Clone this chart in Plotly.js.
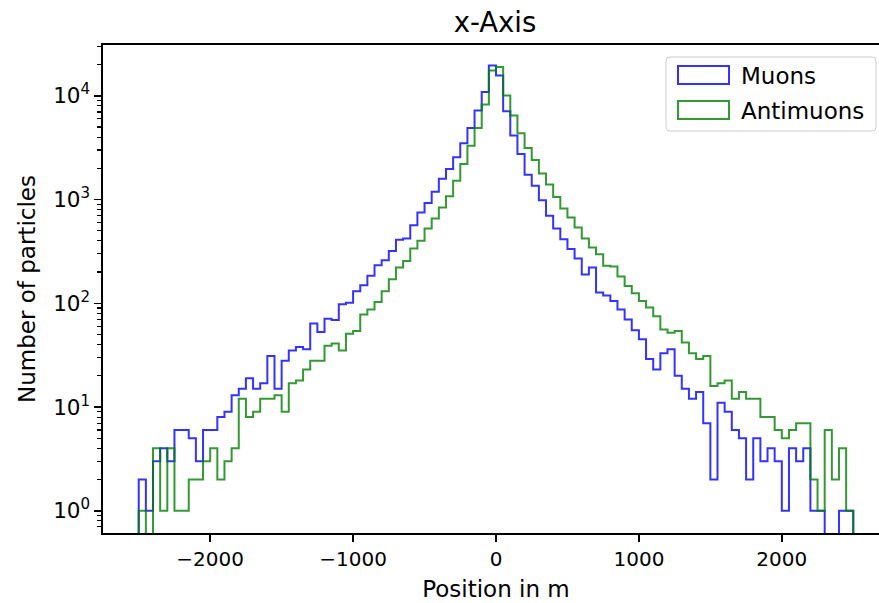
<!DOCTYPE html>
<html><head><meta charset="utf-8">
<script src="https://cdn.plot.ly/plotly-3.0.1.min.js"></script>
<style>html,body{margin:0;padding:0;overflow:hidden;background:#fff}#chart{width:900px;height:603px}</style>
</head><body><div id="chart"></div>
<script>
// Histogram: 100 bins of 50 m from -2500 m to 2500 m
const binStart = -2500;
const binWidth = 50;
const seriesNames = ['Muons', 'Antimuons'];
const muons = [
  2, 1, 3, 4, 3, 6, 6, 5, 3, 6,
  6, 8, 9, 13, 15, 19, 15, 17, 31, 15,
  28, 35, 38, 36, 64, 53, 71, 69, 98, 101,
  131, 149, 184, 233, 260, 320, 409, 421, 567, 752,
  925, 1190, 1590, 1972, 2558, 3490, 4910, 7210, 10860, 19630,
  15710, 7110, 4140, 2754, 1737, 1360, 985, 698, 527, 415,
  333, 270, 190, 221, 127, 119, 105, 87, 70, 55,
  45, 29, 23, 33, 36, 20, 15, 12, 14, 7,
  2, 11, 9, 6, 5, 2, 5, 3, 4, 3,
  1, 4, 3, 4, 1, 1, 0, 0, 1, 1
];
const antimuons = [
  1, 0, 4, 1, 4, 1, 1, 2, 2, 3,
  4, 2, 3, 4, 12, 8, 9, 12, 12, 13,
  9, 17, 18, 23, 28, 28, 39, 41, 35, 51,
  54, 78, 87, 103, 131, 171, 221, 256, 338, 400,
  527, 658, 841, 1076, 1520, 2203, 3311, 4910, 8240, 17570,
  18940, 10070, 6450, 4362, 3146, 2409, 1780, 1400, 1057, 822,
  673, 538, 422, 345, 297, 230, 226, 181, 147, 125,
  105, 91, 75, 56, 52, 54, 42, 33, 29, 31,
  16, 17, 18, 12, 14, 12, 12, 8, 8, 6,
  5, 6, 7, 7, 2, 1, 6, 2, 4, 1
];
const xTickVals = [-2000, -1000, 0, 1000, 2000];
const yTickVals = [1, 10, 100, 1000, 10000];
const yTickText = ['10<sup>0</sup>', '10<sup>1</sup>', '10<sup>2</sup>', '10<sup>3</sup>', '10<sup>4</sup>'];
const colors = ['rgba(0,0,255,0.8)', 'rgba(0,128,0,0.8)'];

const FLOOR = 1e-3; // empty bins drop below the axis like matplotlib's log step histogram
function stepTrace(counts, name, color) {
  const xs = [binStart], ys = [FLOOR];
  counts.forEach((c, i) => { xs.push(binStart + i * binWidth); ys.push(c > 0 ? c : FLOOR); });
  const last = counts[counts.length - 1];
  const end = binStart + counts.length * binWidth;
  xs.push(end); ys.push(last > 0 ? last : FLOOR);
  xs.push(end); ys.push(FLOOR);
  return { type: 'scatter', mode: 'lines', x: xs, y: ys, name: name,
           line: { shape: 'hv', color: color, width: 2 }, showlegend: false, hoverinfo: 'skip' };
}

const traces = [stepTrace(muons, seriesNames[0], colors[0]), stepTrace(antimuons, seriesNames[1], colors[1])];

// plot area in pixels: left 103, right 889, top 45, bottom 533
const W = 900, H = 603, L = 103, R = 11, T = 45, B = 70;
const pw = W - L - R, ph = H - T - B;
const px = v => (v - L) / pw;
const py = v => (H - B - v) / ph;

function roundRect(x0, y0, x1, y1, r) {
  const rx = r / pw, ry = r / ph;
  const a = px(x0), b = px(x1), c = py(y0), d = py(y1);
  return `M${a + rx},${c} L${b - rx},${c} Q${b},${c} ${b},${c - ry} L${b},${d + ry} Q${b},${d} ${b - rx},${d} L${a + rx},${d} Q${a},${d} ${a},${d + ry} L${a},${c - ry} Q${a},${c} ${a + rx},${c} Z`;
}

const shapes = [
  { type: 'path', xref: 'paper', yref: 'paper', path: roundRect(666, 57, 876, 131, 4),
    line: { color: '#cccccc', width: 1 }, fillcolor: 'rgba(255,255,255,0.8)', layer: 'above' },
  { type: 'rect', xref: 'paper', yref: 'paper', x0: px(678), x1: px(729), y0: py(66), y1: py(84),
    line: { color: colors[0], width: 2 }, fillcolor: 'rgba(0,0,0,0)', layer: 'above' },
  { type: 'rect', xref: 'paper', yref: 'paper', x0: px(678), x1: px(729), y0: py(101), y1: py(119),
    line: { color: colors[1], width: 2 }, fillcolor: 'rgba(0,0,0,0)', layer: 'above' }
];
const annotations = [
  { xref: 'paper', yref: 'paper', x: px(739), y: py(75.5), xanchor: 'left', yanchor: 'middle',
    text: seriesNames[0], showarrow: false, font: { size: 23 } },
  { xref: 'paper', yref: 'paper', x: px(739), y: py(110.5), xanchor: 'left', yanchor: 'middle',
    text: seriesNames[1], showarrow: false, font: { size: 23 } }
];

const layout = {
  width: W, height: H,
  margin: { l: L, r: R, t: T, b: B },
  paper_bgcolor: 'white', plot_bgcolor: 'white',
  font: { family: 'DejaVu Sans, sans-serif', size: 20, color: 'black' },
  title: { text: 'x-Axis', font: { size: 27.5 }, x: px(495), xref: 'paper', xanchor: 'center',
           y: 1 - 22 / H, yref: 'container', yanchor: 'middle' },
  xaxis: {
    range: [-2750, 2750], tickvals: xTickVals, ticks: 'outside', ticklen: 7, tickwidth: 1.6, tickcolor: 'black',
    showline: true, linewidth: 1.6, linecolor: 'black', mirror: true, showgrid: false, zeroline: false,
    title: { text: 'Position in m', font: { size: 23 }, standoff: 11 }
  },
  yaxis: {
    type: 'log', range: [-0.214, 4.49], tickvals: yTickVals, ticktext: yTickText,
    tickfont: { size: 21.5 },
    ticks: 'outside', ticklen: 7, tickwidth: 1.6, tickcolor: 'black',
    minor: { ticks: 'outside', ticklen: 4, tickwidth: 1.2, tickcolor: 'black', dtick: 'D1', showgrid: false },
    showline: true, linewidth: 1.6, linecolor: 'black', mirror: true, showgrid: false, zeroline: false,
    title: { text: 'Number of particles', font: { size: 23 }, standoff: 11 }
  },
  shapes: shapes, annotations: annotations, showlegend: false
};

Plotly.newPlot('chart', traces, layout, { staticPlot: true, displayModeBar: false });
</script>
</body></html>
